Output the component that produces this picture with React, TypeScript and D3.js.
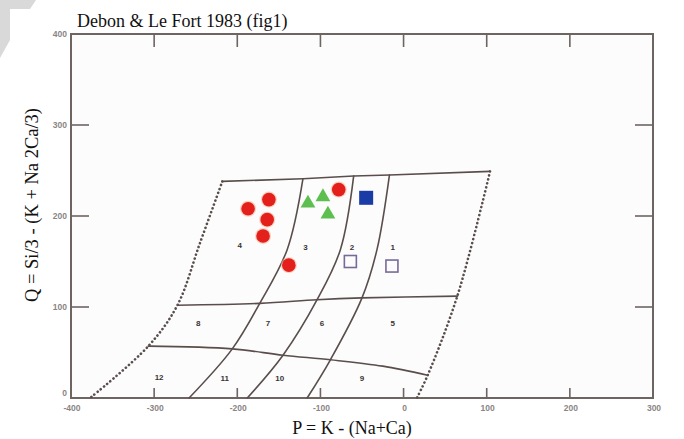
import React from "react";
import * as d3 from "d3";

type Pt = [number, number];

// Axis ticks
const xTicks = [-400, -300, -200, -100, 0, 100, 200, 300];
const yTicks = [0, 100, 200, 300, 400];
const innerXTicks = [-300, -200, -100, 0, 100, 200];
const innerYTicks = [100, 200, 300];

// Debon & Le Fort field boundaries (P, Q)
const upperBoundary: Pt[] = [[-218, 238], [-121, 241], [-60, 244], [-17, 245], [104, 249]];
const leftDotted: Pt[] = [[-218, 238], [-245, 170], [-272, 102], [-307, 57], [-377, 0]];
const rightDotted: Pt[] = [[104, 249], [65, 113], [29, 25], [16, 0]];
const line100: Pt[] = [[-272, 102], [-173, 104], [-104, 108], [-50, 110], [65, 112]];
const line50: Pt[] = [[-307, 57], [-206, 54], [-145, 47], [-88, 42], [-25, 35], [29, 25]];
const lineA: Pt[] = [[-121, 241], [-140, 163], [-173, 104], [-206, 54], [-258, 0]];
const lineB: Pt[] = [[-60, 244], [-76, 163], [-104, 108], [-145, 47], [-188, 0]];
const lineC: Pt[] = [[-17, 245], [-32, 163], [-50, 110], [-88, 42], [-116, 0]];

// Field numbers
const fieldLabels = ["4", "3", "2", "1", "8", "7", "6", "5", "12", "11", "10", "9"];
const fieldP = [-197, -118, -62, -13, -247, -163, -98, -13, -294, -215, -149, -50];
const fieldQ = [168, 166, 166, 166, 82, 82, 82, 82, 23, 22, 22, 22];

// Samples
const redP = [-187, -162, -164, -169, -138, -78];
const redQ = [208, 218, 196, 178, 146, 229];
const greenP = [-115, -97, -91];
const greenQ = [214, 221, 202];
const blueP = [-45];
const blueQ = [220];
const openP = [-64, -14];
const openQ = [150, 145];

const W = 684, H = 439;
const x = d3.scaleLinear().domain([-400, 300]).range([71, 653]);
const y = d3.scaleLinear().domain([0, 400]).range([398, 34]);

const curve = d3.line<Pt>().x(d => x(d[0])).y(d => y(d[1])).curve(d3.curveCatmullRom.alpha(0.5));
const straight = d3.line<Pt>().x(d => x(d[0])).y(d => y(d[1]));

const LINE = "#5a4e4c";
const FRAME = "#6e6462";
const TICKTXT = "#8a8585";

export default function App() {
  const tri = d3.symbol().type(d3.symbolTriangle).size(95)();
  return (
    <svg width={W} height={H} style={{ position: "absolute", left: 0, top: 0, background: "#fff" }}
      fontFamily="Liberation Serif, Times New Roman, serif">
      {/* watermark remnants */}
      <path d="M0,0 L36,0 L30,9 L10,9 L10,40 L0,58 Z" fill="#d9d9d9" />
      <rect x={10} y={9} width={30} height={30} fill="#fff" />

      {/* frame */}
      <rect x={x(-400)} y={y(400)} width={x(300) - x(-400)} height={y(0) - y(400)}
        fill="#fcfcfc" stroke={FRAME} strokeWidth={2} />

      {/* ticks */}
      {innerXTicks.map(t => (
        <g key={"xt" + t}>
          <line x1={x(t)} x2={x(t)} y1={y(0)} y2={y(0) - 10} stroke={FRAME} strokeWidth={1.6} />
          <line x1={x(t)} x2={x(t)} y1={y(400)} y2={y(400) + 13} stroke={FRAME} strokeWidth={1.6} />
        </g>
      ))}
      {innerYTicks.map(t => (
        <g key={"yt" + t}>
          <line x1={x(-400)} x2={x(-400) + 18} y1={y(t)} y2={y(t)} stroke={FRAME} strokeWidth={1.6} />
          <line x1={x(300)} x2={x(300) - 18} y1={y(t)} y2={y(t)} stroke={FRAME} strokeWidth={1.6} />
        </g>
      ))}

      {/* tick labels */}
      <g fontFamily="Liberation Sans, Arial, sans-serif" fontSize={8.5} fontWeight="bold" fill={TICKTXT}>
        {xTicks.map(t => (
          <text key={"xl" + t} x={x(t) + 1} y={y(0) + 13} textAnchor="middle">{t}</text>
        ))}
        {yTicks.map(t => (
          <text key={"yl" + t} x={t === 0 ? x(-400) - 4 : x(-400) - 4} y={t === 0 ? y(0) - 2 : y(t) + 3} textAnchor="end">{t}</text>
        ))}
      </g>

      {/* field boundaries */}
      <g fill="none" stroke={LINE} strokeWidth={1.6} strokeLinecap="round">
        <path d={straight(upperBoundary) || ""} />
        <path d={curve(line100) || ""} />
        <path d={curve(line50) || ""} />
        <path d={curve(lineA) || ""} />
        <path d={curve(lineB) || ""} />
        <path d={curve(lineC) || ""} />
        <path d={curve(leftDotted) || ""} strokeDasharray="0.1,4" strokeWidth={2.6} />
        <path d={curve(rightDotted) || ""} strokeDasharray="0.1,4" strokeWidth={2.6} />
      </g>

      {/* field numbers */}
      <g fontFamily="Liberation Sans, Arial, sans-serif" fontSize={8} fontWeight="bold" fill="#3a3434" textAnchor="middle">
        {fieldLabels.map((l, i) => (
          <text key={"f" + l} x={x(fieldP[i])} y={y(fieldQ[i]) + 3}>{l}</text>
        ))}
      </g>

      {/* samples */}
      {redP.map((p, i) => (
        <g key={"r" + i}>
          <circle cx={x(p)} cy={y(redQ[i])} r={8} fill="#f7b59a" opacity={0.6} />
          <circle cx={x(p)} cy={y(redQ[i])} r={6.8} fill="#e3201b" />
        </g>
      ))}
      {greenP.map((p, i) => (
        <path key={"g" + i} d={tri || ""} transform={`translate(${x(p)},${y(greenQ[i])})`} fill="#5cbf4f" />
      ))}
      {blueP.map((p, i) => (
        <rect key={"b" + i} x={x(p) - 7} y={y(blueQ[i]) - 7} width={14} height={14} fill="#1a3ca6" />
      ))}
      {openP.map((p, i) => (
        <rect key={"o" + i} x={x(p) - 6} y={y(openQ[i]) - 6} width={12} height={12} fill="none" stroke="#786a98" strokeWidth={1.6} />
      ))}

      {/* title and axis titles */}
      <text x={77} y={27} fontSize={18} fill="#111">Debon &amp; Le Fort 1983 (fig1)</text>
      <text x={352} y={434} fontSize={18} textAnchor="middle" fill="#111">P = K - (Na+Ca)</text>
      <text transform="translate(38,205) rotate(-90)" fontSize={18.5} textAnchor="middle" fill="#111">
        Q = Si/3 - (K + Na 2Ca/3)
      </text>
    </svg>
  );
}
